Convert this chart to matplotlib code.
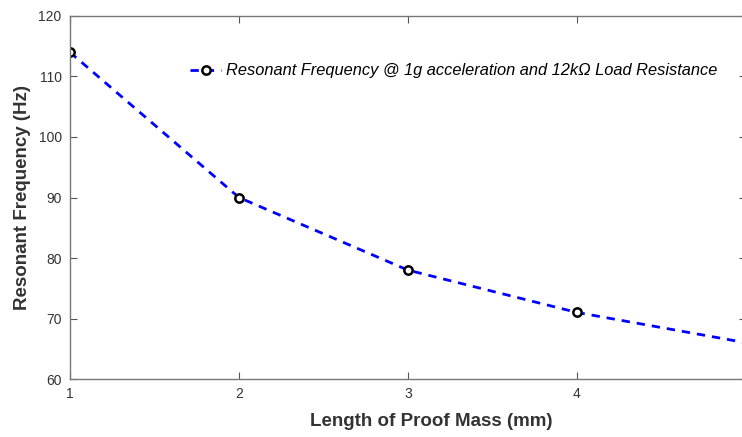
import matplotlib
matplotlib.use("Agg")
import matplotlib.pyplot as plt

plt.rcParams['font.family'] = ['Liberation Sans', 'DejaVu Sans']

# data
length_mm = [1, 2, 3, 4, 5]
freq_hz = [114, 90, 78, 71, 66]
x_ticks = [1, 2, 3, 4]
y_ticks = [60, 70, 80, 90, 100, 110, 120]

fig = plt.figure(figsize=(7.42, 4.37), dpi=100)
ax = fig.add_axes([0.0943, 0.1327, 0.911, 0.8307])

ax.plot(length_mm, freq_hz, color='#0000ff', linestyle='--', linewidth=2,
        dashes=(3, 2.5), marker='o', markevery=[0, 1, 2, 3],
        markersize=6, markerfacecolor='white', markeredgecolor='black',
        markeredgewidth=1.8,
        label='Resonant Frequency @ 1g acceleration and 12k\u03a9 Load Resistance')

ax.set_xlim(1, 5)
ax.set_ylim(60, 120)
ax.set_xticks(x_ticks)
ax.set_yticks(y_ticks)
ax.tick_params(direction='in', length=5, width=0.8, colors='#555555',
               labelcolor='#333333', labelsize=10, top=True, right=True, pad=6)
for s in ax.spines.values():
    s.set_color('#777777')
    s.set_linewidth(1.0)

ax.set_xlabel('Length of Proof Mass (mm)', fontsize=13.5, fontweight='bold',
              color='#333333')
ax.xaxis.set_label_coords(0.534, -0.094)
ax.set_ylabel('Resonant Frequency (Hz)', fontsize=13.5, fontweight='bold',
              color='#333333', labelpad=5)

leg = ax.legend(loc='upper right', bbox_to_anchor=(0.98, 0.91), frameon=False,
                prop={'style': 'italic', 'size': 11.8}, handlelength=1.9,
                handletextpad=0.3)

fig.savefig('out.png', dpi=100)
